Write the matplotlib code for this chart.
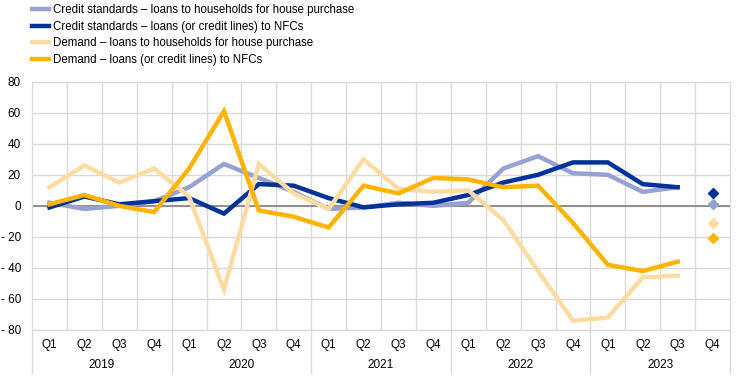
import matplotlib
matplotlib.use("Agg")
import matplotlib.pyplot as plt
from matplotlib.lines import Line2D
import numpy as np

plt.rcParams['font.family'] = ['Liberation Sans', 'DejaVu Sans']

quarters = ["Q1", "Q2", "Q3", "Q4"] * 5
years = ["2019", "2020", "2021", "2022", "2023"]

labels = [
    "Credit standards \u2013 loans to households for house purchase",
    "Credit standards \u2013 loans (or credit lines) to NFCs",
    "Demand \u2013 loans to households for house purchase",
    "Demand \u2013 loans (or credit lines) to NFCs",
]
colors = ["#98a1d3", "#003299", "#fddca3", "#ffb400"]

# Q1 2019 .. Q3 2023
cs_hh = [2, -2, 0, 3, 12, 27, 18, 9, -2, -1, 2, 0, 2, 24, 32, 21, 20, 9, 12]
cs_nfc = [-1, 6, 1, 3, 5, -5, 14, 13, 5, -1, 1, 2, 7, 15, 20, 28, 28, 14, 12]
dem_hh = [12, 26, 15, 24, 6, -54, 27, 8, -2, 30, 11, 9, 10, -9, -42, -74, -72, -46, -45]
dem_nfc = [1, 7, 0, -4, 24, 61, -3, -7, -14, 13, 8, 18, 17, 12, 13, -11, -38, -42, -36]
# Q4 2023 expectations
expected = [1, 8, -11, -21]

series = [cs_hh, cs_nfc, dem_hh, dem_nfc]

fig = plt.figure(figsize=(7.44, 3.78), dpi=100)
ax = fig.add_axes([32/744, 48/378, 698/744, 248.3/378])

n = len(quarters)
x = np.arange(len(cs_hh))
for s, c in zip(series, colors):
    ax.plot(x, s, color=c, lw=3.2, solid_joinstyle='miter', zorder=3)
for i in range(4):
    ax.plot([n - 1], [expected[i]], marker='D', markersize=5.5, color=colors[i],
            linestyle='none', zorder=4)

ax.set_xlim(-0.5, n - 0.5)
ax.set_ylim(-80, 80)
yt = np.arange(-80, 81, 20)
ax.set_yticks(yt)
ax.set_yticklabels([("- %d" % abs(v)) if v < 0 else "%d" % v for v in yt], fontsize=8.5)
ax.tick_params(axis='y', length=0, pad=8)
ax.set_xticks(np.arange(0.5, n - 0.5, 1), minor=True)
ax.set_xticks([])
ax.tick_params(axis='x', which='both', length=0, labelbottom=False)
ax.grid(True, which='major', axis='y', color='#d9d9d9', lw=1, zorder=0)
ax.grid(True, which='minor', axis='x', color='#d9d9d9', lw=1, zorder=0)
ax.axhline(0, color='#808080', lw=1.2, zorder=2)
for sp in ['top', 'right', 'left', 'bottom']:
    ax.spines[sp].set_color('#d9d9d9')

trans = ax.get_xaxis_transform()
for i, q in enumerate(quarters):
    ax.text(i, -0.062, q, transform=trans, ha='center', va='center', fontsize=8.5,
            color='#000000')
for j, yr in enumerate(years):
    ax.text(j * 4 + 1.5, -0.142, yr, transform=trans, ha='center', va='center',
            fontsize=8.5, color='#000000')
for b in range(0, n + 1, 4):
    ax.plot([b - 0.5, b - 0.5], [0, -0.175], transform=trans, color='#d9d9d9',
            lw=1, clip_on=False)

handles = [Line2D([0], [0], color=c, lw=3.2) for c in colors]
fig.legend(handles, labels, loc='upper left', bbox_to_anchor=(32/744, 1 - 4/378),
           frameon=False, fontsize=8.3, handlelength=1.5, handletextpad=0.35,
           labelspacing=0.4, borderaxespad=0.0, borderpad=0.0)

fig.savefig("out.png", dpi=100)
